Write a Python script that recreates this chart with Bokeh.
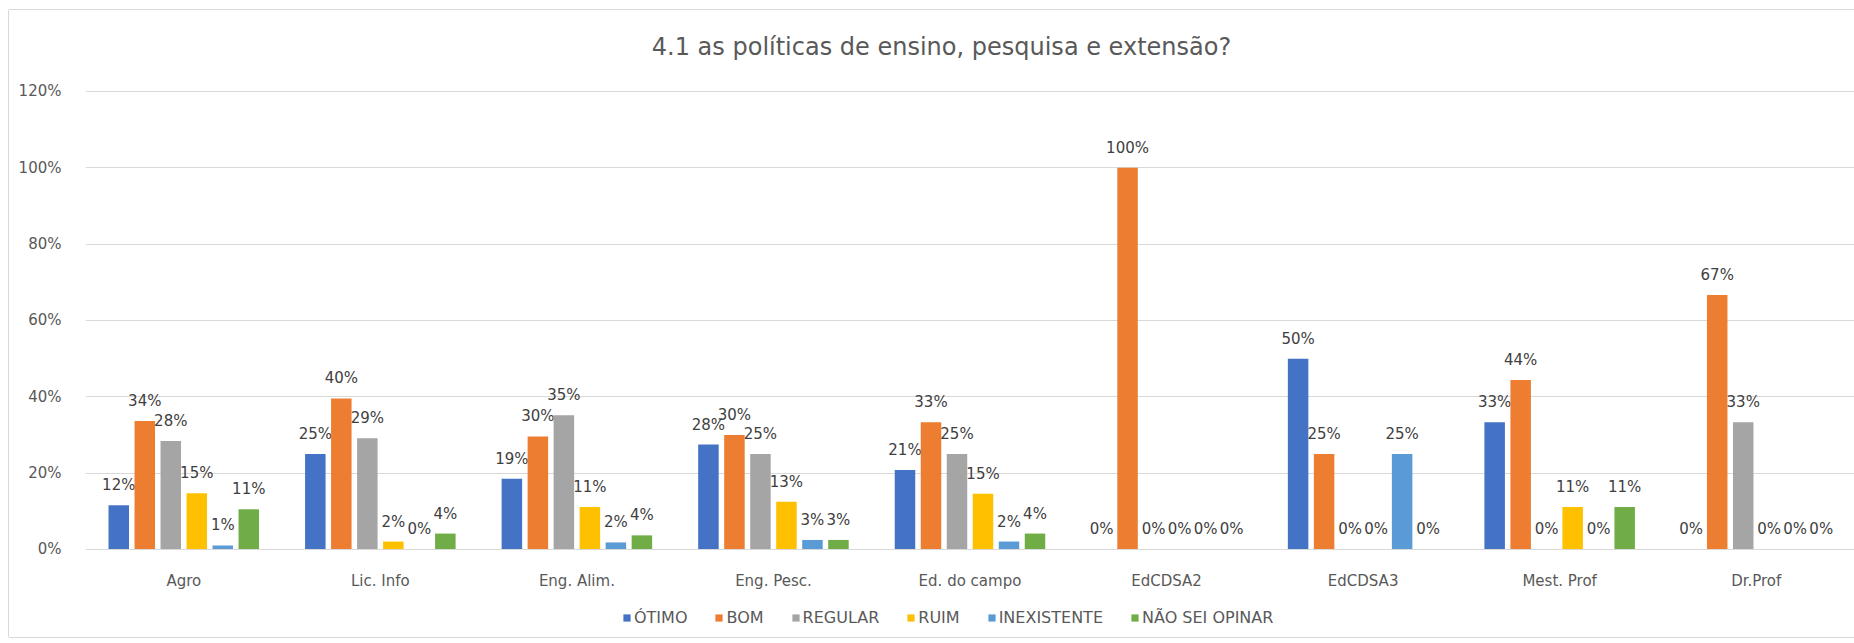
import math
from bokeh.plotting import figure
from bokeh.models import (ColumnDataSource, FactorRange, Range1d, Legend, LegendItem,
                          Label, NumeralTickFormatter, FixedTicker)
from bokeh.transform import dodge
from bokeh.embed import file_html
from bokeh.resources import INLINE
from bokeh.core.properties import value

# ---------------- data ----------------
title_text = "4.1 as políticas de ensino, pesquisa e extensão?"
categories = ["Agro", "Lic. Info", "Eng. Alim.", "Eng. Pesc.", "Ed. do campo",
              "EdCDSA2", "EdCDSA3", "Mest. Prof", "Dr.Prof"]
series_names = ["ÓTIMO", "BOM", "REGULAR", "RUIM", "INEXISTENTE", "NÃO SEI OPINAR"]
otimo       = [0.1158, 0.2500, 0.1852, 0.275, 0.2083, 0.0, 0.50, 0.3333, 0.0]
bom         = [0.3368, 0.3958, 0.2963, 0.300, 0.3333, 1.0, 0.25, 0.4444, 0.6667]
regular     = [0.2842, 0.2917, 0.3519, 0.250, 0.2500, 0.0, 0.00, 0.0,    0.3333]
ruim        = [0.1474, 0.0208, 0.1111, 0.125, 0.1458, 0.0, 0.00, 0.1111, 0.0]
inexistente = [0.0105, 0.0,    0.0185, 0.025, 0.0208, 0.0, 0.25, 0.0,    0.0]
nao_sei     = [0.1053, 0.0417, 0.0370, 0.025, 0.0417, 0.0, 0.00, 0.1111, 0.0]
series_values = [otimo, bom, regular, ruim, inexistente, nao_sei]
series_colors = ["#4472C4", "#ED7D31", "#A5A5A5", "#FFC000", "#5B9BD5", "#70AD47"]
y_ticks = [0.0, 0.2, 0.4, 0.6, 0.8, 1.0, 1.2]

FONT = "DejaVu Sans"
GRID = "#D9D9D9"
TXT = "#595959"

def pct(v):
    return f"{math.floor(v * 100 + 0.5 + 1e-9)}%"

# ---------------- figure ----------------
# the frame spans the whole chart box (title and legend drawn inside it);
# the value axis only shows 0%..120%, the category axis sits at 0
p = figure(x_range=FactorRange(*categories, range_padding=0),
           y_range=Range1d(-0.2306, 1.4122),
           width=1845, height=627,
           min_border_left=76, min_border_right=0,
           min_border_top=0, min_border_bottom=0,
           output_backend="svg", toolbar_location=None)
p.styles = {"margin-left": "9px", "margin-top": "10px",
            "box-shadow": "-1px 0 0 #D9D9D9, 0 -1px 0 #D9D9D9, 0 1px 0 #D9D9D9"}
p.outline_line_color = None
p.background_fill_color = "white"
p.border_fill_color = "white"

bar_step = 0.1323
bar_width = 0.1043
items = []
for i, (name, vals, col) in enumerate(zip(series_names, series_values, series_colors)):
    src = ColumnDataSource(dict(cat=categories, val=vals, label=[pct(v) for v in vals]))
    off = (i - 2.5) * bar_step
    r = p.vbar(x=dodge("cat", off, range=p.x_range), top="val", width=bar_width,
               source=src, fill_color=col, line_color=None)
    p.text(x=dodge("cat", off, range=p.x_range), y="val", text="label", source=src,
           text_align="center", text_baseline="middle", y_offset=-20,
           text_font=value(FONT), text_font_size="15px", text_color="#404040")
    items.append(LegendItem(label=name, renderers=[r]))

legend = Legend(items=items, orientation="horizontal", location=(537, 10),
                glyph_width=9, glyph_height=9, label_standoff=3, spacing=27,
                padding=0, margin=0, border_line_color=None,
                background_fill_alpha=0,
                label_text_font=FONT, label_text_font_size="16px",
                label_text_color=TXT)
p.add_layout(legend)

p.add_layout(Label(x=4.355, y=1.3166, text=title_text, text_align="center",
                   text_baseline="alphabetic", text_font=FONT,
                   text_font_size="24px", text_color=TXT))

# axes
p.yaxis.ticker = FixedTicker(ticks=y_ticks)
p.yaxis.formatter = NumeralTickFormatter(format="0%")
p.yaxis.axis_line_color = None
p.yaxis.major_tick_line_color = None
p.yaxis.minor_tick_line_color = None
p.yaxis.major_label_standoff = 18
p.yaxis.major_label_text_font = FONT
p.yaxis.major_label_text_font_size = "15px"
p.yaxis.major_label_text_color = TXT

p.xaxis.fixed_location = 0
p.xaxis.axis_line_color = GRID
p.xaxis.major_tick_line_color = None
p.xaxis.minor_tick_line_color = None
p.xaxis.major_label_standoff = 17
p.xaxis.major_label_text_font = FONT
p.xaxis.major_label_text_font_size = "15px"
p.xaxis.major_label_text_color = TXT

p.ygrid.ticker = FixedTicker(ticks=y_ticks)
p.ygrid.grid_line_color = GRID
p.xgrid.grid_line_color = None

open("out.html", "w").write(file_html(p, INLINE))
